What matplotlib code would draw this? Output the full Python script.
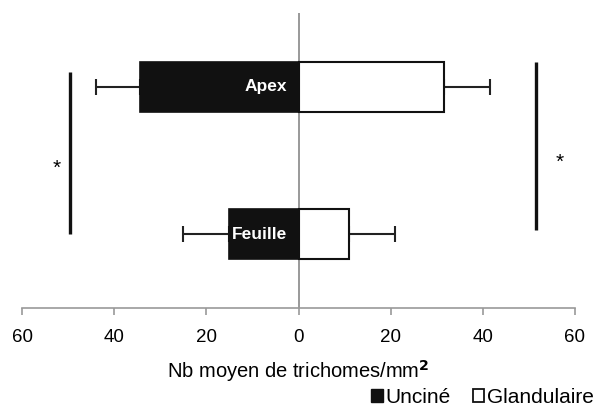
import matplotlib
matplotlib.use("Agg")
import matplotlib.pyplot as plt
from matplotlib.patches import Rectangle

plt.rcParams['font.family'] = ['Liberation Sans', 'DejaVu Sans']

# Data
organes = ["Feuille", "Apex"]
uncine = [15, 34.5]          # hooked trichomes (drawn to the left)
uncine_err = [10, 9.5]
glandulaire = [11, 31.5]     # glandular trichomes (drawn to the right)
glandulaire_err = [10, 10]
xticks = [-60, -40, -20, 0, 20, 40, 60]
xticklabels = ["60", "40", "20", "0", "20", "40", "60"]
sig_left = (-49.7, 0.0, 1.1)   # x, y from, y to
sig_right = (51.5, 0.03, 1.17)

fig = plt.figure(figsize=(5.97, 4.09), dpi=100)
ax = fig.add_axes([0.037, 0.247, 0.926, 0.721])

ypos = list(range(len(organes)))
h = 0.34

ax.barh(ypos, [-v for v in uncine], height=h, color="#111111",
        edgecolor="#111111", linewidth=1.2, zorder=3)
ax.barh(ypos, glandulaire, height=h, color="white",
        edgecolor="#111111", linewidth=1.5, zorder=3)

ax.errorbar([-v for v in uncine], ypos, xerr=[uncine_err, [0] * len(uncine)],
            fmt="none", ecolor="#222222", elinewidth=1.5, capsize=5.5,
            capthick=1.5, zorder=2)
ax.errorbar(glandulaire, ypos, xerr=[[0] * len(glandulaire), glandulaire_err],
            fmt="none", ecolor="#222222", elinewidth=1.5, capsize=5.5,
            capthick=1.5, zorder=2)

for y, name in zip(ypos, organes):
    ax.text(-2.5, y, name, color="white", ha="right", va="center",
            fontsize=12.5, fontweight="bold", zorder=4)

# significance markers
ax.plot([sig_left[0]] * 2, [sig_left[1], sig_left[2]], color="#111111",
        lw=2.4, solid_capstyle="butt")
ax.plot([sig_right[0]] * 2, [sig_right[1], sig_right[2]], color="#111111",
        lw=2.4, solid_capstyle="butt")
ax.text(sig_left[0] - 2.8, 0.45, "*", ha="center", va="center", fontsize=15)
ax.text(sig_right[0] + 5.2, 0.49, "*", ha="center", va="center", fontsize=15)

ax.axvline(0, color="#888888", lw=1.2, zorder=1)

ax.set_xlim(-60, 60)
ax.set_ylim(-0.5, 1.5)
ax.set_xticks(xticks)
ax.set_xticklabels(xticklabels, fontsize=13.5)
ax.set_yticks([])
for s in ["top", "right", "left"]:
    ax.spines[s].set_visible(False)
ax.spines["bottom"].set_color("#999999")
ax.spines["bottom"].set_linewidth(1.2)
ax.tick_params(axis="x", colors="#999999", length=5, width=1.2,
               labelcolor="black", pad=10)

ax.set_xlabel("Nb moyen de trichomes/mm$^\\mathbf{2}$", fontsize=14.5,
              fontweight="medium", labelpad=9)

handles = [Rectangle((0, 0), 1, 1, facecolor="#111111", edgecolor="#111111"),
           Rectangle((0, 0), 1, 1, facecolor="white", edgecolor="#111111",
                     linewidth=1.3)]
fig.legend(handles, ["Unciné", "Glandulaire"], loc="lower right",
           bbox_to_anchor=(1.027, -0.04), ncol=2, frameon=False, fontsize=15,
           handlelength=0.55, handleheight=0.55, handletextpad=0.15,
           columnspacing=1.05)

fig.savefig("out.png", dpi=100)
